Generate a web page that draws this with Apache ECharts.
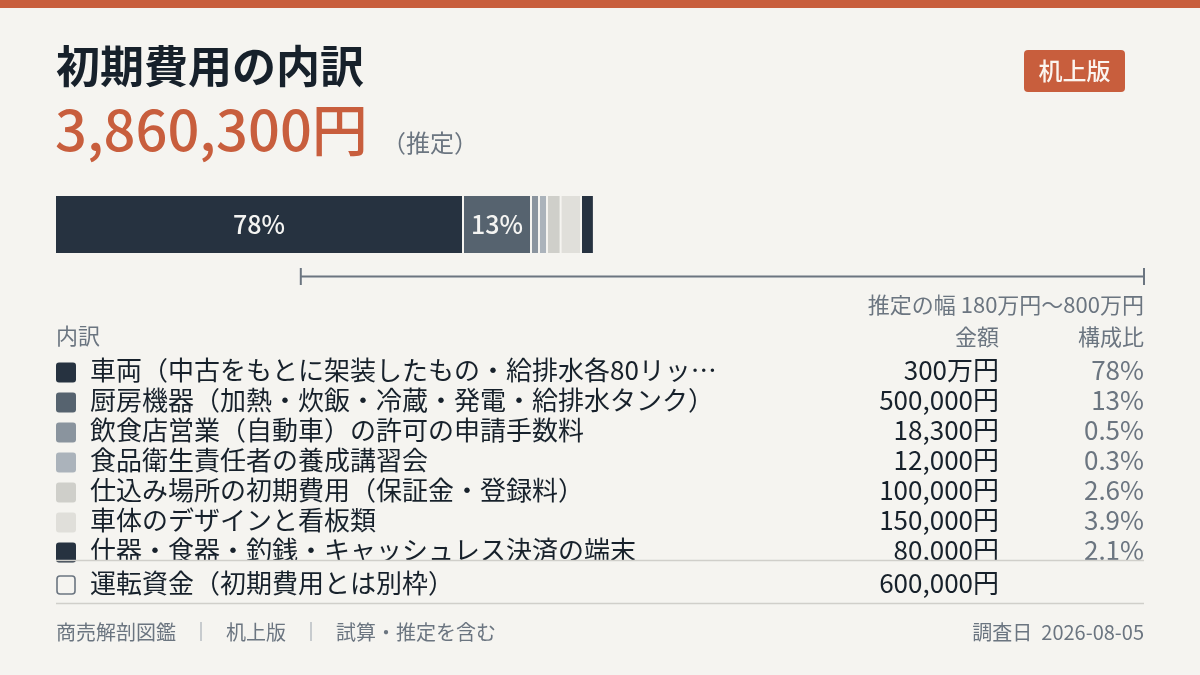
<!DOCTYPE html>
<html lang="ja">
<head>
<meta charset="utf-8">
<script src="https://cdn.jsdelivr.net/npm/echarts@6/dist/echarts.min.js"></script>
<style>
  html, body { margin: 0; padding: 0; background: #f5f4f0; }
  #main { width: 1200px; height: 675px; }
</style>
</head>
<body>
<div id="main"></div>
<script>
// 内訳データ
const itemLabels = [
  '車両（中古をもとに架装したもの・給排水各80リッ…',
  '厨房機器（加熱・炊飯・冷蔵・発電・給排水タンク）',
  '飲食店営業（自動車）の許可の申請手数料',
  '食品衛生責任者の養成講習会',
  '仕込み場所の初期費用（保証金・登録料）',
  '車体のデザインと看板類',
  '什器・食器・釣銭・キャッシュレス決済の端末'
]
const itemAmounts = [3000000, 500000, 18300, 12000, 100000, 150000, 80000]
const extraLabel = '運転資金（初期費用とは別枠）'
const extraAmount = 600000
const estimateRange = [1800000, 8000000]
const axisMax = 8000000
const footerItems = ['商売解剖図鑑', '机上版', '試算・推定を含む']
const surveyDate = '2026-08-05'

const palette = ['#263240', '#56636f', '#8a949e', '#abb3bb', '#cfcfca', '#e0dfda', '#263240']
const FONT = '"Noto Sans CJK JP", "Noto Sans CJK SC", sans-serif'
const DARK = '#17212b'
const GRAY = '#6b7580'
const ORANGE = '#c85e3d'
const BG = '#f5f4f0'

const total = itemAmounts.reduce((a, b) => a + b, 0)
const fmtYen = (v) => v >= 1000000 && v % 10000 === 0 ? `${v / 10000}万円` : `${v.toLocaleString('en-US')}円`
const fmtPct = (v) => {
  const p = v / total * 100
  return p >= 10 ? `${Math.round(p)}%` : `${p.toFixed(1)}%`
}

// 積み上げ用の開始位置
let acc = 0
const barData = itemAmounts.map((v, i) => {
  const row = [acc, v, acc + v, i]
  acc += v
  return row
})

const MIN_W = 8
const GAP = 2

function txt(x, y, text, size, color, align, weight) {
  return {
    type: 'text', x, y, silent: true,
    style: {
      text, fill: color,
      font: `${weight || 'normal'} ${size}px ${FONT}`,
      align: align || 'left', verticalAlign: 'middle',
      textAlign: align || 'left', textVerticalAlign: 'middle'
    }
  }
}

const graphic = []
graphic.push({ type: 'rect', shape: { x: 0, y: 0, width: 1200, height: 8 }, style: { fill: ORANGE }, silent: true })
graphic.push(txt(56, 66, '初期費用の内訳', 44, DARK, 'left', 'bold'))
graphic.push(txt(55, 130, fmtYen(total), 56, ORANGE, 'left', '500'))
graphic.push(txt(382, 143, '（推定）', 24, GRAY))
graphic.push({ type: 'rect', shape: { x: 1024, y: 50, width: 101, height: 42, r: 4 }, style: { fill: ORANGE }, silent: true })
graphic.push(txt(1074.5, 71, '机上版', 24, '#fbf4ef', 'center', '500'))

// 推定の幅
graphic.push(txt(1144, 305, `推定の幅 ${estimateRange[0] / 10000}万円〜${estimateRange[1] / 10000}万円`, 22, GRAY, 'right'))

// 見出し
graphic.push(txt(56, 336, '内訳', 22, GRAY))
graphic.push(txt(999, 337, '金額', 22, GRAY, 'right'))
graphic.push(txt(1144, 337, '構成比', 22, GRAY, 'right'))

// 行
itemLabels.forEach((label, i) => {
  const y = 370 + i * 30
  graphic.push({ type: 'rect', shape: { x: 56, y: y - 7.5, width: 20, height: 20, r: 3 }, style: { fill: palette[i] }, silent: true })
  graphic.push(txt(90, y, label, 26, DARK))
  graphic.push(txt(999, y, fmtYen(itemAmounts[i]), 26, DARK, 'right'))
  graphic.push(txt(1144, y, fmtPct(itemAmounts[i]), 26, GRAY, 'right'))
})
// 一覧の下端で切れる部分
graphic.push({ type: 'rect', shape: { x: 80, y: 561, width: 1080, height: 8 }, style: { fill: BG }, silent: true })
graphic.push({ type: 'line', shape: { x1: 56, y1: 560.5, x2: 1144, y2: 560.5 }, style: { stroke: '#d0cfca', lineWidth: 1.5 }, silent: true })

graphic.push({ type: 'rect', shape: { x: 57, y: 576, width: 18, height: 18, r: 3 }, style: { fill: 'none', stroke: GRAY, lineWidth: 1.6 }, silent: true })
graphic.push(txt(90, 583, extraLabel, 26, DARK))
graphic.push(txt(999, 583, fmtYen(extraAmount), 26, DARK, 'right'))
graphic.push({ type: 'line', shape: { x1: 56, y1: 603.5, x2: 1144, y2: 603.5 }, style: { stroke: '#d0cfca', lineWidth: 1.5 }, silent: true })

// フッター
let fx = 56
footerItems.forEach((t, i) => {
  graphic.push(txt(fx, 632, t, 20, GRAY))
  fx += t.length * 20
  if (i < footerItems.length - 1) {
    fx += 25
    graphic.push({ type: 'line', shape: { x1: fx, y1: 622, x2: fx, y2: 641 }, style: { stroke: '#bcc1c6', lineWidth: 1.6 }, silent: true })
    fx += 25
  }
})
graphic.push(txt(1144, 632, `調査日  ${surveyDate}`, 20, GRAY, 'right'))

const chart = echarts.init(document.getElementById('main'))
chart.setOption({
  backgroundColor: BG,
  animation: false,
  textStyle: { fontFamily: FONT },
  grid: [
    { left: 56, right: 56, top: 196, height: 57 },
    { left: 56, right: 56, top: 268, height: 17 }
  ],
  xAxis: [
    { type: 'value', gridIndex: 0, min: 0, max: axisMax, show: false },
    { type: 'value', gridIndex: 1, min: 0, max: axisMax, show: false }
  ],
  yAxis: [
    { type: 'value', gridIndex: 0, min: 0, max: 1, show: false },
    { type: 'value', gridIndex: 1, min: 0, max: 1, show: false }
  ],
  series: [
    {
      type: 'custom',
      xAxisIndex: 0, yAxisIndex: 0,
      data: barData,
      encode: { x: [0, 2] },
      renderItem(params, api) {
        const i = params.dataIndex
        let extra = 0
        for (let j = 0; j < i; j++) {
          const wj = api.size([itemAmounts[j], 0])[0]
          if (wj < MIN_W) extra += MIN_W - wj
        }
        const p = api.coord([api.value(0), 1])
        const h = api.size([0, 1])[1]
        const w = Math.max(api.size([api.value(1), 0])[0], MIN_W)
        const last = i === itemAmounts.length - 1
        const rw = last ? w : w - GAP
        const children = [{
          type: 'rect',
          shape: { x: p[0] + extra, y: p[1], width: rw, height: h },
          style: { fill: palette[i] }
        }]
        if (rw > 50) {
          children.push({
            type: 'text',
            style: {
              text: fmtPct(itemAmounts[i]),
              x: p[0] + extra + rw / 2, y: p[1] + h / 2,
              fill: '#f4f4f2', font: `500 25px ${FONT}`,
              align: 'center', verticalAlign: 'middle',
              textAlign: 'center', textVerticalAlign: 'middle'
            }
          })
        }
        return { type: 'group', children }
      }
    },
    {
      type: 'custom',
      xAxisIndex: 1, yAxisIndex: 1,
      data: [estimateRange],
      encode: { x: [0, 1] },
      renderItem(params, api) {
        const a = api.coord([api.value(0), 0.5])
        const b = api.coord([api.value(1), 0.5])
        const h = api.size([0, 1])[1]
        const s = { stroke: GRAY, lineWidth: 2 }
        return {
          type: 'group',
          children: [
            { type: 'line', shape: { x1: a[0], y1: a[1], x2: b[0], y2: b[1] }, style: s },
            { type: 'line', shape: { x1: a[0], y1: a[1] - h / 2, x2: a[0], y2: a[1] + h / 2 }, style: s },
            { type: 'line', shape: { x1: b[0], y1: b[1] - h / 2, x2: b[0], y2: b[1] + h / 2 }, style: s }
          ]
        }
      }
    }
  ],
  graphic
})
</script>
</body>
</html>
